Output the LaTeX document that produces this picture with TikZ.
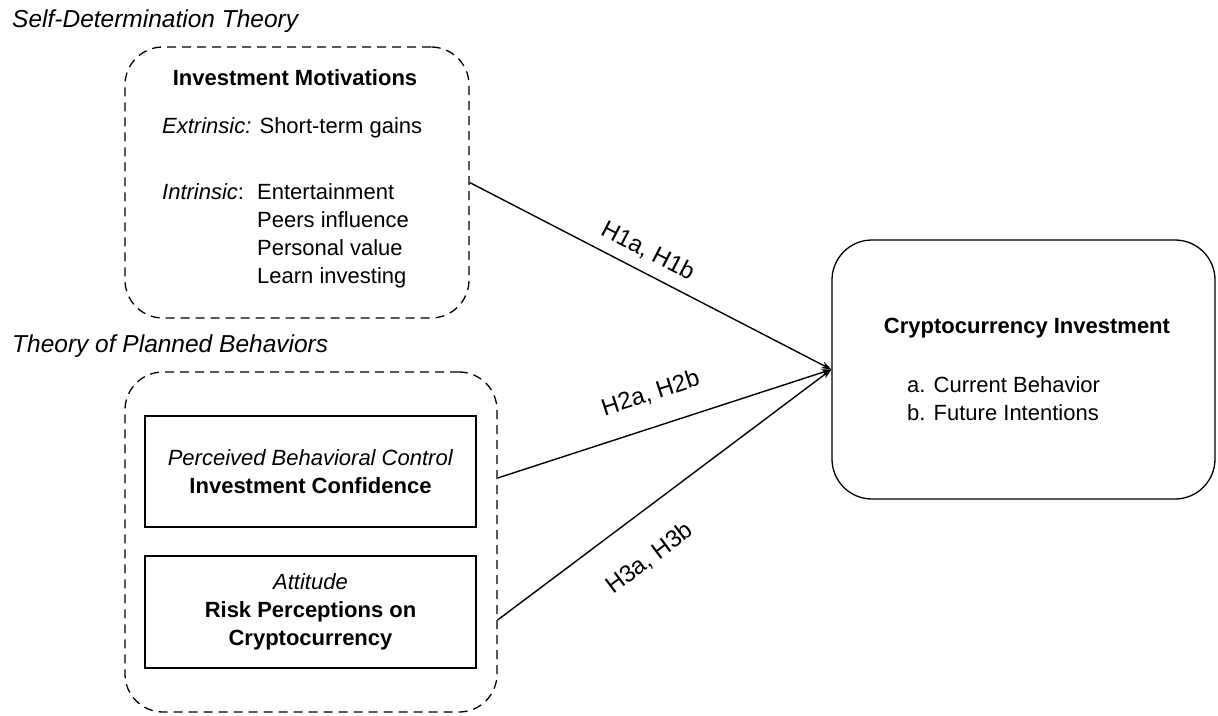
\documentclass[tikz,border=0pt]{standalone}
\usepackage{fontspec}
\setmainfont{Liberation Sans}
\usetikzlibrary{arrows.meta}

\tikzset{
  dashbox/.style={draw, dash pattern=on 9pt off 6pt, line width=1.3pt, rounded corners=38pt, inner sep=0pt},
  solidbox/.style={draw, line width=1.3pt, inner sep=0pt, align=center},
  txt/.style={inner sep=0pt, font=\fontsize{22}{28}\selectfont},
  theory/.style={inner sep=0pt, anchor=base west, font=\fontsize{24.5}{30}\selectfont\itshape},
  link/.style={line width=1.4pt, -{Stealth[length=10pt,width=7pt]}},
  hyp/.style={inner sep=0pt, font=\fontsize{24}{30}\selectfont, sloped}
}

\begin{document}
\begin{tikzpicture}[x=1pt,y=-1pt]
\useasboundingbox (0,0) rectangle (1218,715);
% theories
\node[theory] (sdt) at (12,27) {Self-Determination Theory};
\node[theory] (tpb) at (12,352) {Theory of Planned Behaviors};

% motivations
\node[dashbox,minimum width=344pt,minimum height=271pt] (motiv) at (297,182.5) {};
\node[txt,anchor=base] (motivtitle) at (295,85) {\textbf{Investment Motivations}};
\node[txt,anchor=base west] (extr) at (162,133) {\textit{Extrinsic:} Short-term gains};
\node[txt,anchor=base west] (intr) at (162,199) {\textit{Intrinsic}:};
\node[txt,anchor=base west] (ent) at (257,199) {Entertainment};
\node[txt,anchor=base west] (peer) at (257,227) {Peers influence};
\node[txt,anchor=base west] (pers) at (257,255) {Personal value};
\node[txt,anchor=base west] (learn) at (257,283) {Learn investing};

% planned behaviors
\node[dashbox,minimum width=372pt,minimum height=340pt] (tpbbox) at (311,542) {};
\node[solidbox,txt,minimum width=331pt,minimum height=111pt] (pbc) at (310.5,471.5)
  {\textit{Perceived Behavioral Control}\\\textbf{Investment Confidence}};
\node[solidbox,txt,minimum width=331pt,minimum height=112pt] (att) at (310.5,612)
  {\textit{Attitude}\\\textbf{Risk Perceptions on}\\\textbf{Cryptocurrency}};

% outcome
\node[draw,line width=1.3pt,rounded corners=40pt,minimum width=383pt,minimum height=259pt] (invest) at (1023.5,369.5) {};
\node[txt,anchor=base] (investtitle) at (1027,333) {\textbf{Cryptocurrency Investment}};
\node[txt,anchor=base west] (cur) at (907,392) {a. Current Behavior};
\node[txt,anchor=base west] (fut) at (907,420) {b. Future Intentions};

% hypotheses
\path (tpbbox.east |- pbc.east) ++(0,6.5) coordinate (s2);
\path (tpbbox.east |- att.east) ++(0,8) coordinate (s3);
\draw[link] (motiv.east) -- node[hyp,pos=0.466,above=10pt] {H1a, H1b} (invest.west);
\draw[link] (s2) -- node[hyp,pos=0.489,above=22pt] {H2a, H2b} (invest.west);
\draw[link] (s3) -- node[hyp,pos=0.38,below=31pt] {H3a, H3b} (invest.west);
\end{tikzpicture}
\end{document}
